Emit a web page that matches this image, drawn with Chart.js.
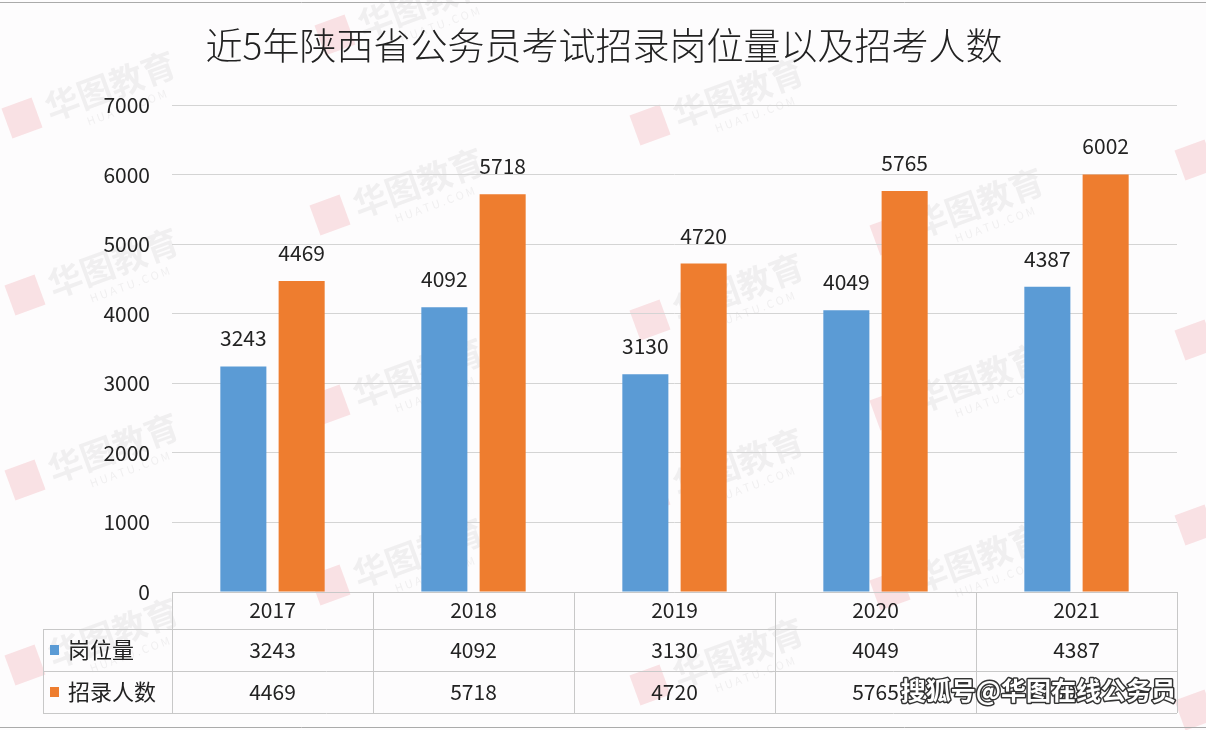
<!DOCTYPE html>
<html>
<head>
<meta charset="utf-8">
<script src="https://cdn.jsdelivr.net/npm/chart.js@4"></script>
<style>
  html, body { margin: 0; padding: 0; background: #fdfcfd; }
  #wrap { width: 1206px; height: 730px; position: relative; }
</style>
</head>
<body>
<div id="wrap"><canvas id="chart" width="1206" height="730"></canvas></div>
<script>
var years = ["2017", "2018", "2019", "2020", "2021"];
var gangwei = [3243, 4092, 3130, 4049, 4387];
var zhaolu = [4469, 5718, 4720, 5765, 6002];
var seriesNames = ["岗位量", "招录人数"];
var yTicks = [0, 1000, 2000, 3000, 4000, 5000, 6000, 7000];
var title = "近5年陕西省公务员考试招录岗位量以及招考人数";
var credit = "搜狐号@华图在线公务员";

var font = "'Noto Sans CJK SC', 'Noto Sans', sans-serif";
var colors = ["#5b9bd5", "#ee7d2f"];

// faint watermark spots (logo + text), decoration only
var marks = [[22,118],[335,35],[650,125],[1195,160],[330,215],[890,235],[25,295],[650,320],
             [1195,340],[330,405],[890,410],[25,480],[650,495],[1195,525],[330,585],[890,590],
             [25,665],[650,685],[1195,710]];

var watermark = {
  id: "watermark",
  beforeDraw: function(chart) {
    var c = chart.ctx;
    c.save();
    marks.forEach(function(m) {
      c.save();
      c.translate(m[0], m[1]);
      c.rotate(-0.35);
      c.fillStyle = "rgba(235,120,130,0.2)";
      c.fillRect(-16, -16, 32, 32);
      c.fillStyle = "rgba(160,160,160,0.14)";
      c.font = "bold 34px " + font;
      c.textBaseline = "middle";
      c.fillText("华图教育", 26, 0);
      c.font = "11px " + font;
      c.fillText("H U A T U . C O M", 60, 26);
      c.restore();
    });
    c.restore();
  }
};

var extras = {
  id: "extras",
  afterDatasetsDraw: function(chart) {
    var c = chart.ctx;
    c.save();
    // title
    c.fillStyle = "#222";
    c.font = "300 37px " + font;
    c.textAlign = "center";
    c.textBaseline = "middle";
    c.fillText(title, 604, 46);

    // value labels above bars
    c.font = "21px " + font;
    c.fillStyle = "#222";
    chart.data.datasets.forEach(function(ds, di) {
      chart.getDatasetMeta(di).data.forEach(function(el, i) {
        c.fillText(String(ds.data[i]), el.x, el.y - 28);
      });
    });

    // data table
    var xs = chart.scales.x;
    var area = chart.chartArea;
    var n = years.length;
    var w = (area.right - area.left) / n;
    var rows = [area.bottom, 629, 671, 713];
    var left = 43;
    c.strokeStyle = "#c8c8c8";
    c.lineWidth = 1;
    c.beginPath();
    c.moveTo(area.left, rows[0] + 0.5); c.lineTo(area.right, rows[0] + 0.5);
    for (var r = 1; r < rows.length; r++) {
      c.moveTo(left, rows[r] + 0.5); c.lineTo(area.right, rows[r] + 0.5);
    }
    c.moveTo(left + 0.5, rows[1]); c.lineTo(left + 0.5, rows[3]);
    for (var k = 0; k <= n; k++) {
      var bx = Math.round(area.left + k * w) + 0.5;
      c.moveTo(bx, rows[0]); c.lineTo(bx, rows[3]);
    }
    c.stroke();

    c.fillStyle = "#222";
    c.font = "21px " + font;
    c.textAlign = "center";
    var tableRows = [years, gangwei, zhaolu];
    tableRows.forEach(function(vals, r) {
      var cy = (rows[r] + rows[r + 1]) / 2;
      vals.forEach(function(v, i) {
        c.fillText(String(v), xs.getPixelForValue(i), cy);
      });
    });
    // legend keys in table
    c.textAlign = "left";
    c.font = "22px " + font;
    seriesNames.forEach(function(name, s) {
      var cy = (rows[s + 1] + rows[s + 2]) / 2;
      c.fillStyle = colors[s];
      c.fillRect(50, cy - 5, 9, 10);
      c.fillStyle = "#222";
      c.fillText(name, 68, cy);
    });

    // frame lines
    c.strokeStyle = "#aaa";
    c.beginPath();
    c.moveTo(0, 2.5); c.lineTo(1206, 2.5);
    c.moveTo(0, 727.5); c.lineTo(1206, 727.5);
    c.stroke();

    // credit
    c.font = "bold 25px " + font;
    c.textAlign = "right";
    c.lineWidth = 3;
    c.strokeStyle = "#333";
    c.lineJoin = "round";
    c.strokeText(credit, 1176, 690);
    c.fillStyle = "#fff";
    c.fillText(credit, 1176, 690);
    c.restore();
  }
};

new Chart(document.getElementById("chart"), {
  type: "bar",
  data: {
    labels: years,
    datasets: [
      { label: seriesNames[0], data: gangwei, backgroundColor: colors[0] },
      { label: seriesNames[1], data: zhaolu, backgroundColor: colors[1] }
    ]
  },
  options: {
    responsive: false,
    animation: false,
    layout: { padding: { left: 0, right: 29, top: 105, bottom: 138 } },
    datasets: { bar: { barPercentage: 0.79, categoryPercentage: 0.58 } },
    plugins: {
      legend: { display: false },
      title: { display: false },
      tooltip: { enabled: false }
    },
    scales: {
      x: { display: false },
      y: {
        min: 0, max: 7000,
        afterBuildTicks: function(s) { s.ticks = yTicks.map(function(v) { return { value: v }; }); },
        afterFit: function(s) { s.width = 172; },
        border: { display: false },
        grid: { color: "#d4d4d4", drawTicks: false },
        ticks: {
          padding: 22, color: "#222", font: { family: font, size: 21 },
          callback: function(v) { return String(v); }
        }
      }
    }
  },
  plugins: [watermark, extras]
});
</script>
</body>
</html>
